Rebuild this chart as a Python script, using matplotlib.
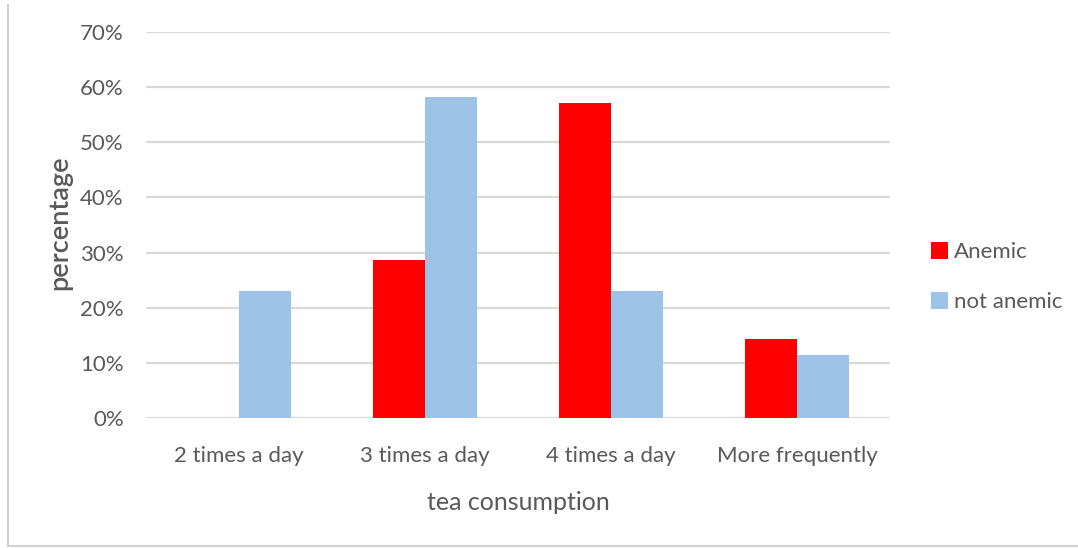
import matplotlib
matplotlib.use("Agg")
import matplotlib.pyplot as plt
from matplotlib.lines import Line2D
from matplotlib.ticker import PercentFormatter
import numpy as np

plt.rcParams['font.family'] = ['Lato', 'DejaVu Sans']

categories = ["2 times a day", "3 times a day", "4 times a day", "More frequently"]
anemic = [0.0, 28.6, 57.1, 14.3]
not_anemic = [23.1, 58.2, 23.1, 11.5]
series_names = ["Anemic", "not anemic"]

grey_text = "#595959"
red = "#FF0000"
blue = "#9DC3E6"

fig = plt.figure(figsize=(10.78, 5.48), dpi=100)
ax = fig.add_axes([0.1354, 0.2372, 0.6902, 0.7044])

x = np.arange(len(categories))
w = 0.28
ax.bar(x - w / 2, anemic, w, color=red, label=series_names[0], zorder=3)
ax.bar(x + w / 2, not_anemic, w, color=blue, label=series_names[1], zorder=3)

ax.set_xlim(-0.5, len(categories) - 0.5)
ax.set_ylim(0, 70)
ax.set_yticks(np.arange(0, 71, 10))
ax.yaxis.set_major_formatter(PercentFormatter(decimals=0))
ax.set_xticks(x)
ax.set_xticklabels(categories)
ax.grid(axis="y", color="#d9d9d9", linewidth=1.6, zorder=0)
ax.tick_params(length=0, labelsize=16, labelcolor=grey_text)
ax.tick_params(axis="y", pad=16)
ax.tick_params(axis="x", pad=20)
for s in ax.spines.values():
    s.set_visible(False)

ax.set_xlabel("tea consumption", fontsize=18, color=grey_text, labelpad=18)
ax.set_ylabel("percentage", fontsize=19.5, color=grey_text, fontweight="semibold")
ax.yaxis.set_label_coords(-0.099, 0.505)

leg = fig.legend(loc="center left", bbox_to_anchor=(0.845, 0.494), frameon=False,
                 fontsize=16, labelcolor=grey_text, handlelength=0.75, handleheight=0.75,
                 handletextpad=0.3, labelspacing=1.35)

# thin chart-area frame on the left and bottom
fig.add_artist(Line2D([0.0075, 0.0075], [0.003, 0.99], color="#d0d0d0", linewidth=1.5))
fig.add_artist(Line2D([0.0075, 1.0], [0.003, 0.003], color="#d0d0d0", linewidth=1.5))

fig.savefig("out.png", dpi=100)
